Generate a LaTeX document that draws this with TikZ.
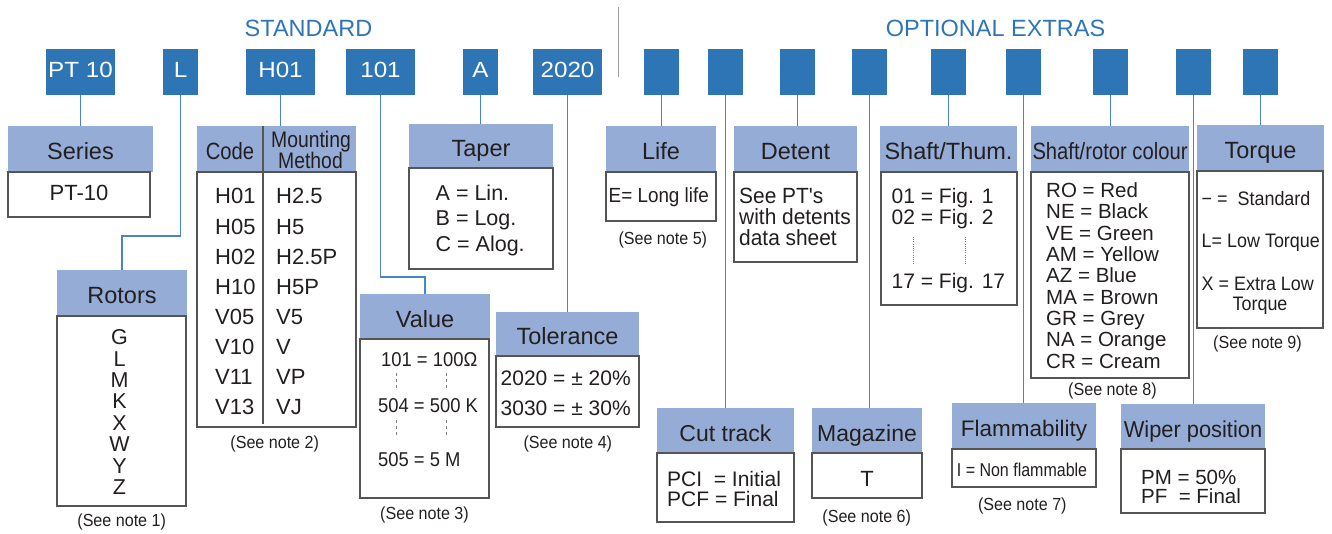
\documentclass[tikz,border=0pt]{standalone}
\usepackage{fontspec}
\setmainfont{Liberation Sans}
\newfontfamily\fCode[FakeStretch=1.1]{Liberation Sans}
\newfontfamily\fN[FakeStretch=0.92]{Liberation Sans}
\newfontfamily\fXN[FakeStretch=0.86]{Liberation Sans}
\newfontfamily\fS[FakeStretch=0.95]{Liberation Sans}
\definecolor{codeblue}{RGB}{46,117,182}
\definecolor{hdrblue}{RGB}{149,172,214}
\definecolor{connblue}{RGB}{70,134,200}
\definecolor{boxgray}{RGB}{85,85,85}
\definecolor{txt}{RGB}{35,31,32}
\definecolor{sepgray}{RGB}{160,160,160}
\newcommand\myfs[1]{\fontsize{#1}{#1}\selectfont}
\begin{document}
\begin{tikzpicture}[x=1pt,y=-1pt,
 codebox/.style={fill=codeblue,text=white,minimum height=46pt,inner sep=0pt,font=\fCode\myfs{22},text height=10.6pt,text depth=0pt},
 widebox/.style={codebox,minimum width=69pt},
 slimbox/.style={codebox,minimum width=35pt},
 hdr/.style={fill=hdrblue,inner sep=0pt,text=txt,font=\myfs{23.5},text height=21.5pt,text depth=0pt},
 bodybox/.style={draw=boxgray,line width=1.4pt,fill=white,inner sep=0pt},
 conn/.style={draw=connblue,line width=1.2pt},
 txl/.style={inner sep=0pt,text=txt,anchor=base west},
 txc/.style={inner sep=0pt,text=txt,anchor=base},
 notetxt/.style={txc,font=\fN\myfs{17.5}},
 ttl/.style={inner sep=0pt,text=codeblue,anchor=base,font=\myfs{23.5}},
 seprule/.style={draw=sepgray,line width=1pt},
 vdash/.style={draw=gray,line width=0.8pt,dash pattern=on 3pt off 3pt},
 vdot/.style={draw=gray,line width=0.8pt,dash pattern=on 1pt off 1.2pt}]
\useasboundingbox (0,0) rectangle (1332,533);

% titles
\node[ttl] (tStd) at (308.5,36.7) {STANDARD};
\node[ttl] (tOpt) at (995.5,36.7) {OPTIONAL EXTRAS};
\draw[seprule] (618,7) -- (618,77);

% code boxes
\node[widebox] (c1) at (80.5,72) {PT 10};
\node[slimbox] (c2) at (180.5,72) {L};
\node[widebox] (c3) at (280.5,72) {H01};
\node[widebox] (c4) at (380.5,72) {101};
\node[slimbox] (c5) at (480.5,72) {A};
\node[widebox] (c6) at (567.5,72) {2020};
\foreach \x [count=\i] in {661.5,725.5,797.5,869.5,948.5,1023.5,1110.5,1193.5,1260.5}
  \node[slimbox] (o\i) at (\x,72) {};

% headers and bodies
\node[hdr,minimum width=145pt,minimum height=46pt] (hSer) at (80.5,149) {Series};
\node[bodybox,minimum width=142pt,minimum height=45pt] (bSer) at (79,194.5) {};
\node[txc,font=\myfs{22}] (tSer) at (79,200.9) {PT-10};

\node[hdr,minimum width=130pt,minimum height=46pt] (hRot) at (122,293) {Rotors};
\node[bodybox,minimum width=129pt,minimum height=190pt] (bRot) at (121.5,411) {};
\foreach \L [count=\i from 0] in {G,L,M,K,X,W,Y,Z}
  \node[txc,font=\myfs{21.5}] (rot\i) at (119.5,{344.7+21.43*\i}) {\L};

\node[hdr,minimum width=66pt,minimum height=46pt,font=\fXN\myfs{23.5}] (hCode) at (230,149) {Code};
\node[hdr,minimum width=93pt,minimum height=46pt] (hMount) at (309.5,149) {};
\node[txc,font=\fXN\myfs{22.5}] (tMo1) at (311,147) {Mounting};
\node[txc,font=\fXN\myfs{22.5}] (tMo2) at (310.5,168) {Method};
\node[bodybox,minimum width=159pt,minimum height=255pt] (bTab) at (276.5,299.5) {};
\draw[draw=boxgray,line width=1.5pt] (263,126) -- (263,424);
\foreach \a/\b [count=\i from 0] in {H01/H2.5,H05/H5,H02/H2.5P,H10/H5P,V05/V5,V10/V,V11/VP,V13/VJ}{
  \node[txl,font=\myfs{22}] (ta\i) at (215,{203.9+30.1*\i}) {\a};
  \node[txl,font=\myfs{22}] (tb\i) at (276,{203.9+30.1*\i}) {\b};
}

\node[hdr,minimum width=144pt,minimum height=44pt] (hTap) at (481,146) {Taper};
\node[bodybox,minimum width=144pt,minimum height=101pt] (bTap) at (481,218.5) {};
\node[txl,font=\myfs{21.5}] (tp1) at (435.5,200) {A = Lin.};
\node[txl,font=\myfs{21.5}] (tp2) at (435.5,225) {B = Log.};
\node[txl,font=\myfs{21.5}] (tp3) at (435.5,251.5) {C = Alog.};

\node[hdr,minimum width=130pt,minimum height=45pt] (hVal) at (425,316.5) {Value};
\node[bodybox,minimum width=129pt,minimum height=159pt] (bVal) at (424.5,418.5) {};
\node[txl,font=\fN\myfs{20}] (v1) at (381,366.7) {101 = 100Ω};
\node[txl,font=\fN\myfs{20}] (v2) at (378,412.3) {504 = 500 K};
\node[txl,font=\fN\myfs{20}] (v3) at (378,466) {505 = 5 M};
\draw[vdash] (396,373) -- (396,389);
\draw[vdash] (446,373) -- (446,389);
\draw[vdash] (396,420) -- (396,436);
\draw[vdash] (446,420) -- (446,436);

\node[hdr,minimum width=143pt,minimum height=44pt] (hTol) at (567.5,334) {Tolerance};
\node[bodybox,minimum width=143pt,minimum height=71pt] (bTol) at (567.5,391.5) {};
\node[txl,font=\myfs{21}] (tl1) at (500.5,385) {2020 = ± 20\%};
\node[txl,font=\myfs{21}] (tl2) at (500.5,415) {3030 = ± 30\%};

\node[hdr,minimum width=110pt,minimum height=46pt] (hLife) at (661,149) {Life};
\node[bodybox,minimum width=110pt,minimum height=49pt] (bLife) at (661,196.5) {};
\node[txl,font=\fN\myfs{20.5}] (tLife) at (608.5,202.3) {E= Long life};

\node[hdr,minimum width=123pt,minimum height=46pt] (hDet) at (795.5,149) {Detent};
\node[bodybox,minimum width=123pt,minimum height=90pt] (bDet) at (795.5,217) {};
\node[txl,font=\fS\myfs{22}] (d1) at (739,203.3) {See PT's};
\node[txl,font=\fS\myfs{22}] (d2) at (739,224.3) {with detents};
\node[txl,font=\fS\myfs{22}] (d3) at (739,245.3) {data sheet};

\node[hdr,minimum width=137pt,minimum height=46pt] (hShT) at (948.5,149) {Shaft/Thum.};
\node[bodybox,minimum width=136pt,minimum height=133pt] (bShT) at (949,238.5) {};
\node[txl,font=\myfs{21}] (s1) at (891.5,203.3) {01 = Fig. 1};
\node[txl,font=\myfs{21}] (s2) at (891.5,224.3) {02 = Fig. 2};
\node[txl,font=\myfs{21}] (s3) at (891.5,288.3) {17 = Fig. 17};
\draw[vdot] (913,237) -- (913,265);
\draw[vdot] (965,237) -- (965,265);

\node[hdr,minimum width=158pt,minimum height=46pt,font=\fXN\myfs{23.5}] (hCol) at (1110,149) {Shaft/rotor colour};
\node[bodybox,minimum width=158pt,minimum height=206pt] (bCol) at (1110,275) {};
\foreach \t [count=\i from 0] in {RO = Red,NE = Black,VE = Green,AM = Yellow,AZ = Blue,MA = Brown,GR = Grey,NA = Orange,CR = Cream}
  \node[txl,font=\myfs{20.5}] (col\i) at (1046,{197.3+21.375*\i}) {\t};

\node[hdr,minimum width=127pt,minimum height=46pt] (hTor) at (1260.5,148) {Torque};
\node[bodybox,minimum width=126pt,minimum height=157pt] (bTor) at (1260,249.5) {};
\node[txl,font=\fN\myfs{19.5}] (q1) at (1201.5,205) {− =\ \ Standard};
\node[txl,font=\fN\myfs{19.5}] (q2) at (1201.5,247.3) {L= Low Torque};
\node[txl,font=\fN\myfs{19.5}] (q3) at (1201.5,290) {X = Extra Low};
\node[txc,font=\fN\myfs{19.5}] (q4) at (1260,310.7) {Torque};

\node[hdr,minimum width=137pt,minimum height=45pt,font=\myfs{23}] (hCut) at (725.5,430.5) {Cut track};
\node[bodybox,minimum width=137pt,minimum height=69pt] (bCut) at (725.5,487.5) {};
\node[txl,font=\myfs{21}] (ct1) at (667,486.7) {PCI\ \ = Initial};
\node[txl,font=\myfs{21}] (ct2) at (667,506.7) {PCF = Final};

\node[hdr,minimum width=110pt,minimum height=45pt,font=\myfs{23}] (hMag) at (867,430.5) {Magazine};
\node[bodybox,minimum width=110pt,minimum height=45pt] (bMag) at (867,475.5) {};
\node[txc,font=\myfs{22}] (mg) at (867,486.7) {T};

\node[hdr,minimum width=144pt,minimum height=46pt,font=\myfs{22.5}] (hFlam) at (1024,426) {Flammability};
\node[bodybox,minimum width=144pt,minimum height=38pt] (bFlam) at (1024,468) {};
\node[txc,font=\fXN\myfs{18.6}] (fl) at (1022,476.7) {I = Non flammable};

\node[hdr,minimum width=144pt,minimum height=45pt,font=\fS\myfs{23}] (hWip) at (1193,426.5) {Wiper position};
\node[bodybox,minimum width=144pt,minimum height=64pt] (bWip) at (1193,481) {};
\node[txl,font=\myfs{20.5}] (w1) at (1141,484) {PM = 50\%};
\node[txl,font=\myfs{20.5}] (w2) at (1141,503.3) {PF\ \ = Final};

% notes
\node[notetxt] (n1) at (121.7,526) {(See note 1)};
\node[notetxt] (n2) at (274.7,448.3) {(See note 2)};
\node[notetxt] (n3) at (424.5,519.3) {(See note 3)};
\node[notetxt] (n4) at (567.8,448.3) {(See note 4)};
\node[notetxt] (n5) at (662.8,244.3) {(See note 5)};
\node[notetxt] (n6) at (866.7,522.7) {(See note 6)};
\node[notetxt] (n7) at (1022.3,510) {(See note 7)};
\node[notetxt] (n8) at (1112.5,395) {(See note 8)};
\node[notetxt] (n9) at (1257.5,348.3) {(See note 9)};

% connectors
\coordinate (k2) at (180.5,236);
\coordinate (k4) at (380.5,277);
\draw[conn] (c1.south) -- (hSer.north);
\draw[conn] (c2.south) -- (k2) -| (hRot.north);
\draw[conn] (c3.south) -- (c3.south |- hMount.north);
\draw[conn] (c4.south) -- (k4) -| (hVal.north);
\draw[conn] (c5.south) -- (c5.south |- hTap.north);
\draw[conn] (c6.south) -- (c6.south |- hTol.north);
\draw[conn] (o1.south) -- (o1.south |- hLife.north);
\draw[conn] (o2.south) -- (o2.south |- hCut.north);
\draw[conn] (o3.south) -- (o3.south |- hDet.north);
\draw[conn] (o4.south) -- (o4.south |- hMag.north);
\draw[conn] (o5.south) -- (o5.south |- hShT.north);
\draw[conn] (o6.south) -- (o6.south |- hFlam.north);
\draw[conn] (o7.south) -- (o7.south |- hCol.north);
\draw[conn] (o8.south) -- (o8.south |- hWip.north);
\draw[conn] (o9.south) -- (o9.south |- hTor.north);
\end{tikzpicture}
\end{document}
